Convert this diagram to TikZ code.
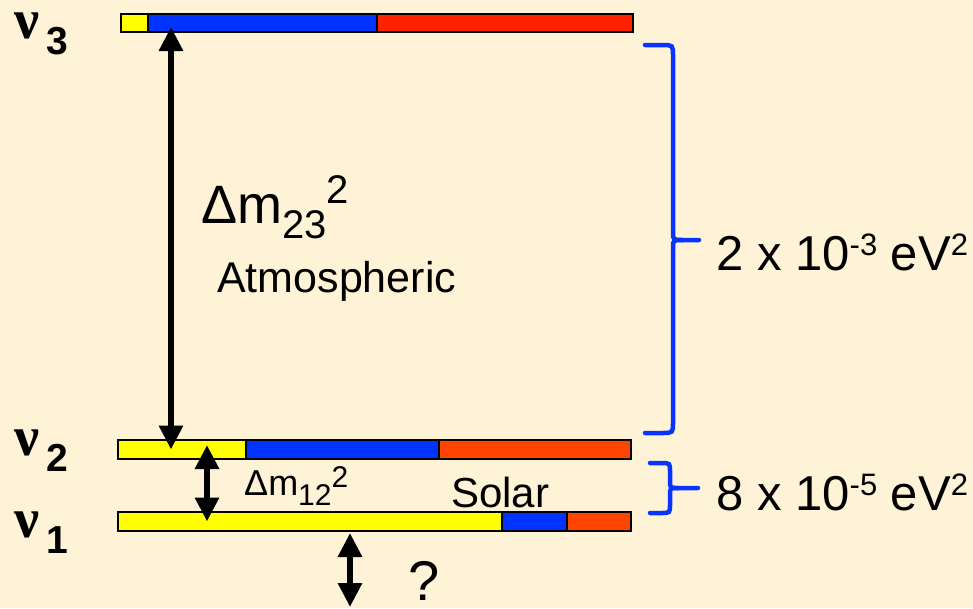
\documentclass[tikz,border=0pt]{standalone}
\usepackage{fontspec}
\setmainfont{Liberation Sans}
\newfontfamily\nufont{Liberation Serif}
\usetikzlibrary{arrows.meta,positioning,calc}

\definecolor{slidebg}{RGB}{254,243,214}
\definecolor{nuyellow}{RGB}{255,255,0}
\definecolor{nublue}{RGB}{0,51,255}
\definecolor{nured}{RGB}{255,68,0}
\definecolor{nuredtop}{RGB}{255,34,0}
\definecolor{braceblue}{RGB}{8,52,255}

\newcommand{\fsz}[1]{\fontsize{#1}{#1}\selectfont}
\newcommand{\nulab}[1]{{\nufont\bfseries\fsz{56}ν}\hspace{7pt}\raisebox{-16pt}{\fsz{39}\bfseries #1}}

\begin{document}
\begin{tikzpicture}[
    x=1pt, y=-1pt,
    >={Triangle[length=24pt,width=23pt]},
    seg/.style={
        rectangle,
        draw=black,
        line width=2.5pt,
        fill=#1,
        inner sep=0pt,
        outer sep=0pt,
        anchor=north west
    },
    updown/.style={<->, line width=6pt},
    brace/.style={draw=braceblue, line width=4.5pt, line cap=round},
    txt/.style={anchor=base west, inner sep=0pt}
]

% Background -- fixes the page size
\fill[slidebg] (0,0) rectangle (973,608);
\useasboundingbox (0,0) rectangle (973,608);

% Mass levels -- top to bottom
\node[seg=nuyellow, minimum width=27pt, minimum height=18pt] (y3) at (121,14) {};
\node[seg=nublue,   minimum width=229pt, minimum height=18pt, right=0pt of y3] (b3) {};
\node[seg=nuredtop, minimum width=256pt, minimum height=18pt, right=0pt of b3] (r3) {};

\node[seg=nuyellow, minimum width=128pt, minimum height=19pt] (y2) at (118,440) {};
\node[seg=nublue,   minimum width=193pt, minimum height=19pt, right=0pt of y2] (b2) {};
\node[seg=nured,    minimum width=192pt, minimum height=19pt, right=0pt of b2] (r2) {};

\node[seg=nuyellow, minimum width=384pt, minimum height=19pt] (y1) at (118,512) {};
\node[seg=nublue,   minimum width=65pt,  minimum height=19pt, right=0pt of y1] (b1) {};
\node[seg=nured,    minimum width=64pt,  minimum height=19pt, right=0pt of b1] (r1) {};

% Level names
\node[txt] (nu3) at (14,38)  {\nulab{3}};
\node[txt] (nu2) at (14,455) {\nulab{2}};
\node[txt] (nu1) at (14,537) {\nulab{1}};

% Splittings
\coordinate (atm) at (171,0);
\coordinate (sol) at (207,0);
\coordinate (qq)  at (350,0);
\coordinate (qend) at (350,607);

\draw[updown, shorten <=4pt] (b3.center -| atm) -- (y2.center -| atm);
\draw[updown, shorten <=5pt] (y2.north -| sol) -- (y1.center -| sol);
\draw[updown, shorten <=2pt] (y1.south -| qq) -- (qend -| qq);

\node[txt] (dm23) at (201,223) {\fsz{54}Δm\raisebox{-15pt}{\fsz{40}23}\raisebox{20pt}{\fsz{40}2}};
\node[txt] (atmo) at (217,292) {\fsz{43}Atmospheric};
\node[txt] (dm12) at (244,495) {\fsz{36}Δm\raisebox{-10pt}{\fsz{30}12}\raisebox{8pt}{\fsz{30}2}};
\node[txt] (solar) at (451,507) {\fsz{42}Solar};
\node[txt] (qmark) at (408,600) {\fsz{56}?};

% Braces with scales
\draw[brace] (645,45) -- (662,45) .. controls (673,45) .. (673,56) -- (673,232)
    .. controls (673,240) .. (683,240) -- (699,240);
\draw[brace] (683,240) .. controls (673,240) .. (673,248) -- (673,422)
    .. controls (673,433) .. (662,433) -- (645,433);

\draw[brace] (650,463) -- (661,463) .. controls (670,463) .. (670,472) -- (670,481)
    .. controls (670,488) .. (678,488) -- (698,488);
\draw[brace] (678,488) .. controls (670,488) .. (670,495) -- (670,504)
    .. controls (670,513) .. (661,513) -- (650,513);

\node[txt] (big) at (716,270) {\fsz{49}2 x 10\raisebox{15pt}{\fsz{31}-3} eV\raisebox{15pt}{\fsz{31}2}};
\node[txt] (small) at (716,510) {\fsz{49}8 x 10\raisebox{15pt}{\fsz{31}-5} eV\raisebox{15pt}{\fsz{31}2}};

\end{tikzpicture}
\end{document}
